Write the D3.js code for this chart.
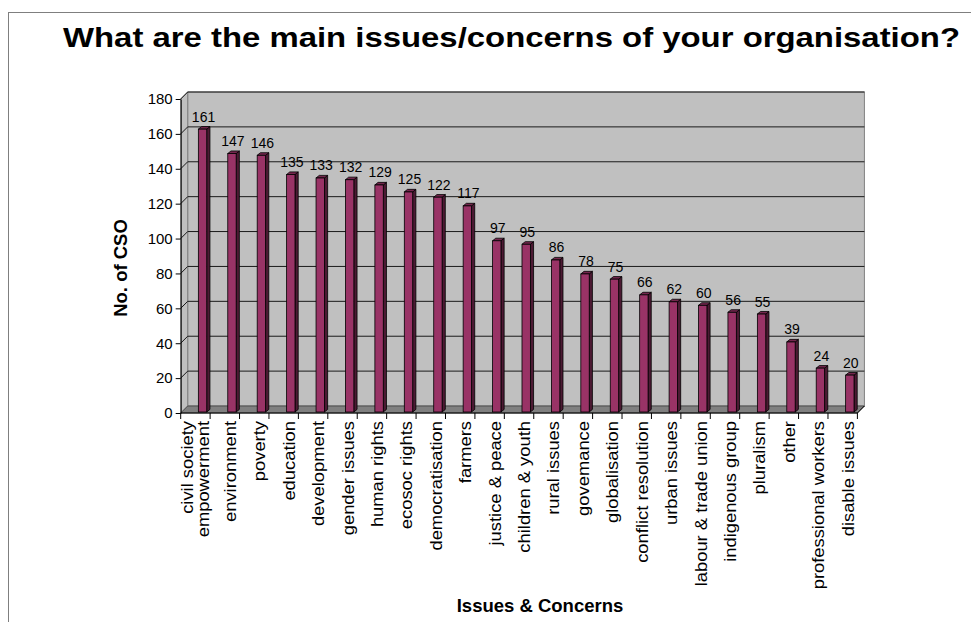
<!DOCTYPE html>
<html>
<head>
<meta charset="utf-8">
<script src="https://cdn.jsdelivr.net/npm/d3@7"></script>
<style>
  html, body { margin: 0; padding: 0; background: #ffffff; }
  svg { display: block; font-family: Arial, "Liberation Sans", Helvetica, sans-serif; }
</style>
</head>
<body>
<svg id="chart" width="971" height="622"></svg>
<script>
// Issues named by responding organisations (multi-line labels split on "\n")
const categories = [
  "civil society\nempowerment", "environment", "poverty", "education", "development",
  "gender issues", "human rights", "ecosoc rights", "democratisation", "farmers",
  "justice & peace", "children & youth", "rural issues", "govemance", "globalisation",
  "conflict resolution", "urban issues", "labour & trade union", "indigenous group",
  "pluralism", "other", "professional workers", "disable issues"
];
// Number of CSOs per issue
const values = [161, 147, 146, 135, 133, 132, 129, 125, 122, 117, 97, 95, 86, 78, 75, 66, 62, 60, 56, 55, 39, 24, 20];
// Value axis ticks
const yTicks = [0, 20, 40, 60, 80, 100, 120, 140, 160, 180];

const titleText = "What are the main issues/concerns of your organisation?";
const yTitle = "No. of CSO";
const xTitle = "Issues & Concerns";

const svg = d3.select("#chart");

// outer chart-area frame
svg.append("rect")
  .attr("x", 8.5).attr("y", 12.5).attr("width", 990).attr("height", 640)
  .attr("fill", "#ffffff").attr("stroke", "#7f7f7f").attr("stroke-width", 1);

// front plane of the 3-D plot
const x0 = 180.7, x1 = 857.4;
const y = d3.scaleLinear().domain([0, 180]).range([413, 99]);
const x = d3.scaleBand().domain(d3.range(categories.length)).range([x0, x1]).padding(0);
const dx = 7, dy = -7;           // wall depth offset
const bw = x.bandwidth();

const g = svg.append("g");

// back wall
g.append("rect")
  .attr("x", x0 + dx).attr("y", y(180) + dy)
  .attr("width", x1 - x0).attr("height", y(0) - y(180))
  .attr("fill", "#c0c0c0").attr("stroke", "#808080").attr("stroke-width", 1);

// side wall
g.append("polygon")
  .attr("points", [[x0, y(180)], [x0 + dx, y(180) + dy], [x0 + dx, y(0) + dy], [x0, y(0)]].join(" "))
  .attr("fill", "#c0c0c0").attr("stroke", "#808080").attr("stroke-width", 1);

// gridlines across the side and back walls
yTicks.filter(v => v > 0).forEach(v => {
  g.append("polyline")
    .attr("points", [[x0, y(v)], [x0 + dx, y(v) + dy], [x1 + dx, y(v) + dy]].join(" "))
    .attr("fill", "none").attr("stroke", "#1a1a1a").attr("stroke-width", 1);
});

// floor
g.append("polygon")
  .attr("points", [[x0, y(0)], [x1, y(0)], [x1 + dx, y(0) + dy], [x0 + dx, y(0) + dy]].join(" "))
  .attr("fill", "#808080").attr("stroke", "#404040").attr("stroke-width", 0.8);

// 3-D columns
const fw = bw * 0.285, bdx = 3.2, bdy = -2.6;
const fx = i => x(i) + bw * 0.6;
const bars = g.selectAll("g.bar").data(values).join("g").attr("class", "bar");
bars.append("polygon") // side face
  .attr("points", (v, i) => {
    const l = fx(i) + fw, t = y(v) - 3, b = y(0) - 1;
    return [[l, t], [l + bdx, t + bdy], [l + bdx, b + bdy], [l, b]].join(" ");
  })
  .attr("fill", "#4c1a33").attr("stroke", "#000").attr("stroke-width", 0.8);
bars.append("polygon") // top face
  .attr("points", (v, i) => {
    const l = fx(i), t = y(v) - 3;
    return [[l, t], [l + fw, t], [l + fw + bdx, t + bdy], [l + bdx, t + bdy]].join(" ");
  })
  .attr("fill", "#73264d").attr("stroke", "#000").attr("stroke-width", 0.8);
bars.append("rect") // front face
  .attr("x", (v, i) => fx(i)).attr("y", v => y(v) - 3)
  .attr("width", fw).attr("height", v => y(0) - 1 - (y(v) - 3))
  .attr("fill", "#993366").attr("stroke", "#000").attr("stroke-width", 0.8);

// value labels
g.selectAll("text.val").data(values).join("text").attr("class", "val")
  .attr("x", (v, i) => fx(i) + fw / 2 + 1)
  .attr("y", v => y(v) - 10.5)
  .attr("text-anchor", "middle")
  .attr("font-size", 14).attr("fill", "#000")
  .text(v => v);

// value axis
const yAxis = d3.axisLeft(y).tickValues(yTicks).tickSize(5).tickPadding(3).tickSizeOuter(0);
const ya = svg.append("g").attr("transform", `translate(${x0},0)`).call(yAxis);
ya.select(".domain").attr("stroke", "#000");
ya.selectAll(".tick line").attr("stroke", "#000");
ya.selectAll(".tick text").attr("font-size", 15).attr("fill", "#000")
  .attr("font-family", "Arial, 'Liberation Sans', sans-serif");

// category axis line and ticks at the band edges
svg.append("line").attr("x1", x0).attr("x2", x1).attr("y1", y(0)).attr("y2", y(0)).attr("stroke", "#000");
svg.append("line").attr("x1", x1).attr("x2", x1 + dx).attr("y1", y(0)).attr("y2", y(0) + dy).attr("stroke", "#000");
d3.range(categories.length + 1).forEach(i => {
  const xx = i < categories.length ? x(i) : x1;
  svg.append("line").attr("x1", xx).attr("x2", xx).attr("y1", y(0)).attr("y2", y(0) + 6).attr("stroke", "#000");
});

// category labels, rotated and reading upward
const catFont = 17, stretch = 1.08, lineGap = 16.7;
categories.forEach((c, i) => {
  const lines = c.split("\n");
  const cx = x(i) + bw / 2;
  lines.forEach((ln, k) => {
    const bx = lines.length === 1 ? cx + 11 : cx - 2.7 + k * lineGap;
    svg.append("text")
      .attr("transform", `translate(${bx},${y(0) + 8}) rotate(-90) scale(${stretch},1)`)
      .attr("text-anchor", "end")
      .attr("font-size", catFont).attr("fill", "#000")
      .text(ln);
  });
});

// axis titles
svg.append("text")
  .attr("transform", `translate(127,268) rotate(-90)`)
  .attr("text-anchor", "middle").attr("font-weight", "bold").attr("font-size", 18.5)
  .text(yTitle);
svg.append("text")
  .attr("x", 540).attr("y", 612)
  .attr("text-anchor", "middle").attr("font-weight", "bold").attr("font-size", 18.5)
  .text(xTitle);

// chart title, fitted to its span
svg.append("text")
  .attr("x", 63).attr("y", 47)
  .attr("font-weight", "bold").attr("font-size", 27)
  .attr("textLength", 897).attr("lengthAdjust", "spacingAndGlyphs")
  .text(titleText);
</script>
</body>
</html>
